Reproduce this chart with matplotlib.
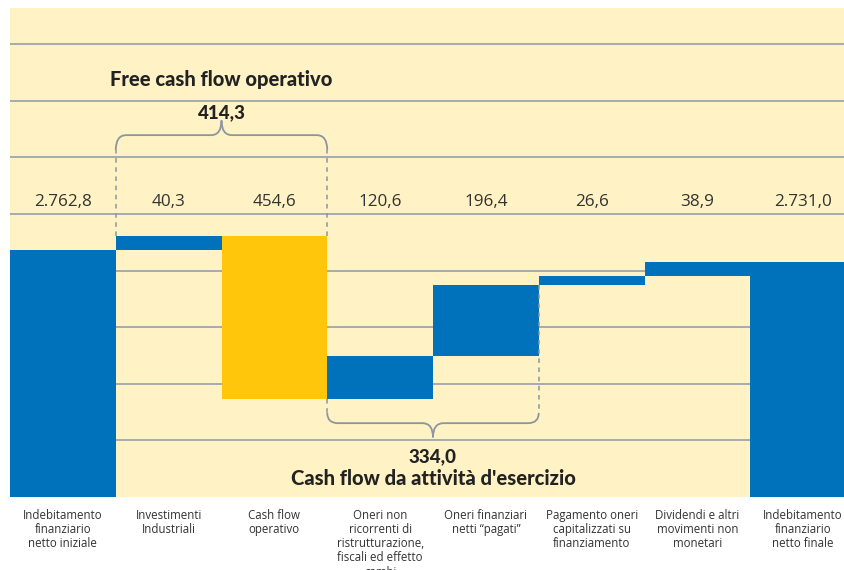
import matplotlib
matplotlib.use("Agg")
import matplotlib.pyplot as plt
from matplotlib.path import Path
from matplotlib.patches import PathPatch
import matplotlib.transforms as mtransforms

# ---- data ----
categories = [
    "Indebitamento\nfinanziario\nnetto iniziale",
    "Investimenti\nIndustriali",
    "Cash flow\noperativo",
    "Oneri non\nricorrenti di\nristrutturazione,\nfiscali ed effetto\ncambi",
    "Oneri finanziari\nnetti \u201cpagati\u201d",
    "Pagamento oneri\ncapitalizzati su\nfinanziamento",
    "Dividendi e altri\nmovimenti non\nmonetari",
    "Indebitamento\nfinanziario\nnetto finale",
]
initial_debt = 2762.8
changes = [40.3, -454.6, 120.6, 196.4, 26.6, 38.9]
final_debt = 2731.0
value_labels = ["2.762,8", "40,3", "454,6", "120,6", "196,4", "26,6", "38,9", "2.731,0"]
fcf_title = "Free cash flow operativo"
fcf_value = "414,3"
cfo_title = "Cash flow da attivit\u00e0 d'esercizio"
cfo_value = "334,0"

# ---- style ----
BG = "#FFF2C4"
BLUE = "#0072BC"
YELLOW = "#FFC60B"
GRID = "#9EA5AE"
TXT = "#333333"
DARK = "#222222"
BRACE = "#8C96A0"
REG = ["Open Sans", "DejaVu Sans"]
HEAVY = ["Lato", "DejaVu Sans"]

fig = plt.figure(figsize=(8.44, 5.70), dpi=100)
fig.patch.set_facecolor("white")
ax = fig.add_axes([10 / 844, 1 - 497 / 570, 846 / 844, 489 / 570])
ax.set_facecolor(BG)

ylo, yhi = 2077, 3435
ax.set_ylim(ylo, yhi)
ax.set_xlim(-0.5, len(categories) - 0.5)
step = (yhi - ylo) / 8.64
ax.set_yticks([ylo + k * step for k in range(1, 9)])
ax.grid(axis="y", color=GRID, lw=1.3)
ax.set_axisbelow(True)
ax.tick_params(left=False, bottom=False, labelleft=False, labelbottom=False)
for s in ax.spines.values():
    s.set_visible(False)

# ---- waterfall bars ----
ax.bar(0, initial_debt, width=1.0, color=BLUE, zorder=3)
cum = initial_debt
levels = [cum]
for i, d in enumerate(changes, start=1):
    col = YELLOW if d < 0 else BLUE
    ax.bar(i, d, bottom=cum, width=1.0, color=col, zorder=3)
    cum += d
    levels.append(cum)
ax.bar(len(categories) - 1, final_debt, width=1.0, color=BLUE, zorder=3)

def fy(frac):
    return ylo + frac * (yhi - ylo)

trans = mtransforms.blended_transform_factory(ax.transData, ax.transAxes)

# value labels
for i, lab in enumerate(value_labels):
    ax.text(i, 0.603, lab, transform=trans, ha="center", va="center",
            fontsize=12.3, color=TXT, family=REG, zorder=5)

# category labels
for i, lab in enumerate(categories):
    ax.text(i, -0.024, lab, transform=trans, ha="center", va="top",
            fontsize=8.3, color=TXT, family=REG,
            linespacing=1.12, clip_on=False)

def brace(x0, x1, y_end, y_mid, y_tip, rx=0.1):
    xc = (x0 + x1) / 2
    verts = [
        (x0, y_end), (x0, y_mid), (x0 + rx, y_mid),
        (xc - rx, y_mid), (xc, y_mid), (xc, y_tip),
        (xc, y_mid), (xc + rx, y_mid),
        (x1 - rx, y_mid), (x1, y_mid), (x1, y_end),
    ]
    codes = [Path.MOVETO, Path.CURVE3, Path.CURVE3,
             Path.LINETO, Path.CURVE3, Path.CURVE3,
             Path.CURVE3, Path.CURVE3,
             Path.LINETO, Path.CURVE3, Path.CURVE3]
    ax.add_patch(PathPatch(Path(verts, codes), transform=trans, fill=False,
                           edgecolor=BRACE, lw=1.3, zorder=6, clip_on=False))

dash = (0, (3, 3))

# top brace: free cash flow operativo (columns 1-2)
brace(0.5, 2.5, 0.7096, 0.740, 0.770)
ax.plot([0.5, 0.5], [levels[1], fy(0.7096)], ls=dash, color=BRACE, lw=1.1, zorder=6)
ax.plot([2.5, 2.5], [levels[1], fy(0.7096)], ls=dash, color=BRACE, lw=1.1, zorder=6)
ax.text(1.5, 0.853, fcf_title, transform=trans, ha="center", va="center",
        fontsize=14.5, fontweight="black", color=DARK, family=HEAVY, zorder=6)
ax.text(1.5, 0.786, fcf_value, transform=trans, ha="center", va="center",
        fontsize=13.5, fontweight="black", color=DARK, family=HEAVY, zorder=6)

# bottom brace: cash flow da attivita d'esercizio (columns 3-4)
brace(2.5, 4.5, 0.172, 0.151, 0.122)
ax.plot([2.5, 2.5], [levels[2], fy(0.172)], ls=dash, color=BRACE, lw=1.1, zorder=6)
ax.plot([4.5, 4.5], [levels[4], fy(0.172)], ls=dash, color=BRACE, lw=1.1, zorder=6)
ax.text(3.5, 0.082, cfo_value, transform=trans, ha="center", va="center",
        fontsize=13.5, fontweight="black", color=DARK, family=HEAVY, zorder=6)
ax.text(3.5, 0.037, cfo_title, transform=trans, ha="center", va="center",
        fontsize=14.5, fontweight="black", color=DARK, family=HEAVY, zorder=6)

fig.savefig("out.png", dpi=100, facecolor="white")
